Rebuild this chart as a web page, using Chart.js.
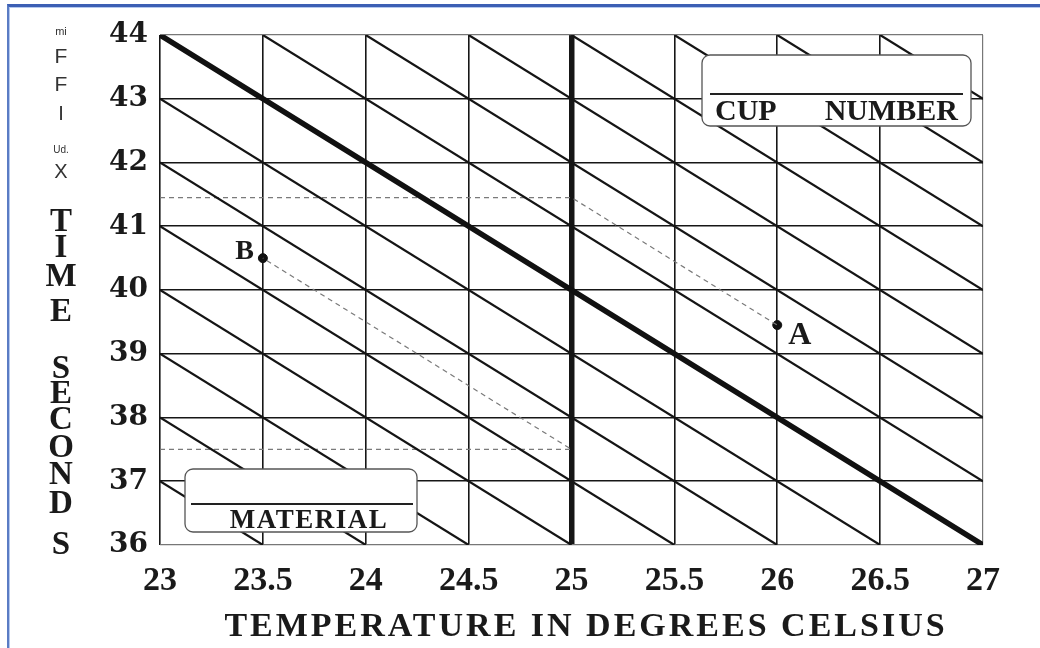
<!DOCTYPE html>
<html>
<head>
<meta charset="utf-8">
<script src="https://cdn.jsdelivr.net/npm/chart.js@4.4.1/dist/chart.umd.min.js"></script>
<style>
    html, body { margin: 0; padding: 0; background: #fff; }
    #wrap { position: relative; width: 1040px; height: 648px; overflow: hidden; background: #fff; }
    #frame {
        position: absolute; left: 7px; top: 4px; right: -10px; bottom: -10px;
        border-top: 3px solid #3c5fb4; border-left: 2px solid #5a7cc4;
        box-shadow: inset 1px 1px 0 #b4c8ee;
    }
    #chart { position: absolute; left: 0; top: 0; }
</style>
</head>
<body>
<div id="wrap">
    <div id="frame"></div>
    <canvas id="chart" width="1040" height="648"></canvas>
</div>
<script>
const tempTicks = [23, 23.5, 24, 24.5, 25, 25.5, 26, 26.5, 27];
const timeTicks = [36, 37, 38, 39, 40, 41, 42, 43, 44];

// thin guide lines, one segment each
const guideStartTemp = [23, 23, 23, 23, 23, 23, 23, 23.5, 24, 24.5, 25, 25.5, 26, 26.5];
const guideStartTime = [37, 38, 39, 40, 41, 42, 43, 44, 44, 44, 44, 44, 44, 44];
const guideEndTemp = [23.5, 24, 24.5, 25, 25.5, 26, 26.5, 27, 27, 27, 27, 27, 27, 27];
const guideEndTime = [36, 36, 36, 36, 36, 36, 36, 37, 38, 39, 40, 41, 42, 43];

// heavy reference line
const mainTemp = [23, 27];
const mainTime = [44, 36];

// dashed readings
const pathATemp = [23, 25, 26];
const pathATime = [41.45, 41.45, 39.45];
const pathBTemp = [23, 25, 23.5];
const pathBTime = [37.5, 37.5, 40.5];

const pointNames = ['A', 'B'];
const pointTemp = [26, 23.5];
const pointTime = [39.45, 40.5];

const xTitle = 'TEMPERATURE IN DEGREES CELSIUS';
const yNoise = ['mi', 'F', 'F', 'I', 'Ud.', 'X'];
const yTitle = ['T', 'I', 'M', 'E', 'S', 'E', 'C', 'O', 'N', 'D', 'S'];

const serif = "'Liberation Serif', 'Times New Roman', serif";

function toPoints(xs, ys) {
    return xs.map((v, i) => ({ x: v, y: ys[i] }));
}

const datasets = [];

guideStartTemp.forEach((t, i) => {
    datasets.push({
        data: toPoints([t, guideEndTemp[i]], [guideStartTime[i], guideEndTime[i]]),
        borderColor: '#151515',
        borderWidth: 2.2,
        pointRadius: 0,
        showLine: true
    });
});

datasets.push({
    data: toPoints(mainTemp, mainTime),
    borderColor: '#111',
    borderWidth: 5.5,
    borderCapStyle: 'round',
    pointRadius: 0,
    showLine: true
});

[[pathATemp, pathATime], [pathBTemp, pathBTime]].forEach(p => {
    datasets.push({
        data: toPoints(p[0], p[1]),
        borderColor: '#7a7a7a',
        borderWidth: 1.2,
        borderDash: [5, 4],
        pointRadius: 0,
        showLine: true
    });
});

datasets.push({
    data: toPoints(pointTemp, pointTime),
    backgroundColor: '#111',
    borderColor: '#111',
    pointRadius: 4.5,
    showLine: false
});

function roundBox(ctx, x, y, w, h, r) {
    ctx.beginPath();
    ctx.roundRect(x, y, w, h, r);
    ctx.fillStyle = '#fff';
    ctx.fill();
    ctx.lineWidth = 1.3;
    ctx.strokeStyle = '#555';
    ctx.stroke();
}

const overlay = {
    id: 'overlay',
    afterDatasetsDraw(chart) {
        const ctx = chart.ctx;
        const xs = chart.scales.x;
        const ys = chart.scales.y;
        ctx.save();

        // cup number box
        roundBox(ctx, 702, 55, 269, 71, 8);
        ctx.fillStyle = '#222';
        ctx.fillRect(710, 93, 253, 2);
        ctx.fillStyle = '#1a1a1a';
        ctx.font = 'bold 30px ' + serif;
        ctx.textBaseline = 'alphabetic';
        ctx.textAlign = 'left';
        ctx.fillText('CUP', 715, 120);
        ctx.textAlign = 'right';
        ctx.fillText('NUMBER', 958, 120);

        // material box
        roundBox(ctx, 185, 469, 232, 63, 8);
        ctx.fillStyle = '#222';
        ctx.fillRect(191, 503, 222, 2);
        ctx.fillStyle = '#1a1a1a';
        ctx.font = 'bold 27px ' + serif;
        ctx.letterSpacing = '1.5px';
        ctx.textAlign = 'center';
        ctx.fillText('MATERIAL', 309, 528);
        ctx.letterSpacing = '0px';

        // point labels
        const ax = xs.getPixelForValue(pointTemp[0]);
        const ay = ys.getPixelForValue(pointTime[0]);
        ctx.font = 'bold 32px ' + serif;
        ctx.textAlign = 'left';
        ctx.fillText(pointNames[0], ax + 11, ay + 19);
        const bx = xs.getPixelForValue(pointTemp[1]);
        const by = ys.getPixelForValue(pointTime[1]);
        ctx.font = 'bold 28px ' + serif;
        ctx.textAlign = 'right';
        ctx.fillText(pointNames[1], bx - 9, by + 1);

        // x title
        ctx.font = 'bold 34px ' + serif;
        ctx.letterSpacing = '3px';
        ctx.textAlign = 'center';
        ctx.fillText(xTitle, 586, 636);
        ctx.letterSpacing = '0px';

        // y title, stacked letters
        ctx.textBaseline = 'middle';
        const noiseY = [32, 57, 85, 114, 150, 172];
        const noiseSize = [11, 21, 21, 20, 10, 20];
        ctx.fillStyle = '#333';
        yNoise.forEach((s, i) => {
            ctx.font = noiseSize[i] + "px 'Liberation Sans', Arial, sans-serif";
            ctx.fillText(s, 61, noiseY[i]);
        });
        const titleY = [222, 248, 277, 312, 369, 394, 420, 448, 475, 504, 545];
        ctx.fillStyle = '#1a1a1a';
        ctx.font = 'bold 33px ' + serif;
        yTitle.forEach((s, i) => {
            ctx.fillText(s, 61, titleY[i]);
        });

        ctx.restore();
    }
};

new Chart(document.getElementById('chart'), {
    type: 'scatter',
    data: { datasets: datasets },
    options: {
        responsive: false,
        animation: false,
        events: [],
        layout: { padding: { top: 35, right: 57, left: 0, bottom: 0 } },
        plugins: { legend: { display: false }, tooltip: { enabled: false } },
        scales: {
            x: {
                type: 'linear',
                min: 23,
                max: 27,
                afterBuildTicks: s => { s.ticks = tempTicks.map(v => ({ value: v })); },
                afterFit: s => { s.height = 103; },
                ticks: {
                    callback: v => String(v),
                    font: { family: serif, size: 34, weight: 'bold' },
                    color: '#1a1a1a',
                    padding: 16,
                    maxRotation: 0,
                    autoSkip: false
                },
                grid: {
                    drawTicks: false,
                    color: c => (c.tick && c.tick.value === 27) ? '#777' : '#161616',
                    lineWidth: c => (c.tick && c.tick.value === 25) ? 5.5 : (c.tick && c.tick.value === 27 ? 1.2 : 1.6)
                },
                border: { display: false }
            },
            y: {
                type: 'linear',
                min: 36,
                max: 44,
                afterBuildTicks: s => { s.ticks = timeTicks.map(v => ({ value: v })); },
                afterFit: s => { s.width = 160; },
                ticks: {
                    callback: v => String(v),
                    font: { family: "'DejaVu Serif', serif", size: 28, weight: 'bold' },
                    color: '#1a1a1a',
                    padding: 12,
                    autoSkip: false
                },
                grid: {
                    drawTicks: false,
                    color: c => (c.tick && (c.tick.value === 44 || c.tick.value === 36)) ? '#777' : '#161616',
                    lineWidth: c => (c.tick && (c.tick.value === 44 || c.tick.value === 36)) ? 1.2 : 1.6
                },
                border: { display: false }
            }
        }
    },
    plugins: [overlay]
});
</script>
</body>
</html>
